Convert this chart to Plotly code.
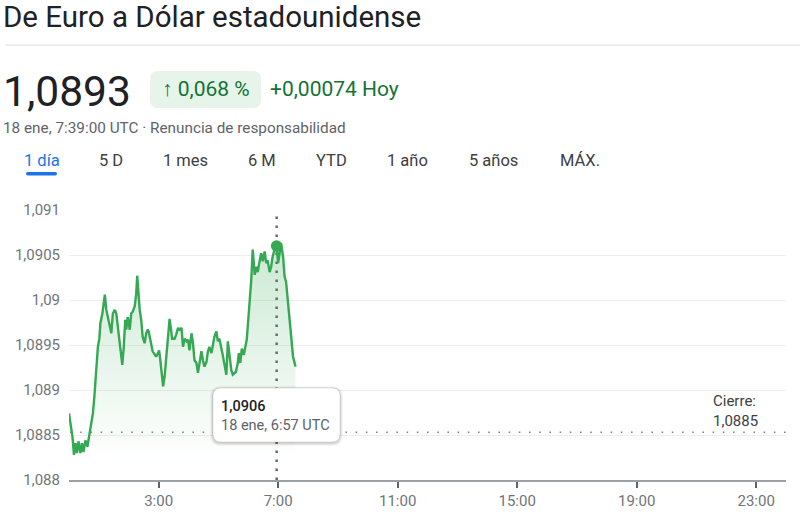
import plotly.graph_objects as go

# ---------------- data ----------------
day = "2024-01-18"
times = ["00:00", "00:03", "00:07", "00:10", "00:13", "00:16", "00:19", "00:23", "00:26", "00:29",
         "00:33", "00:37", "00:40", "00:43", "00:48", "00:51", "00:55", "00:58", "01:01", "01:03",
         "01:07", "01:10", "01:12", "01:15", "01:18", "01:22", "01:25", "01:28", "01:32", "01:35",
         "01:38", "01:42", "01:45", "01:47", "01:50", "01:53", "01:55", "01:58", "02:02", "02:05",
         "02:08", "02:12", "02:15", "02:17", "02:22", "02:25", "02:28", "02:32", "02:35", "02:38",
         "02:40", "02:45", "02:48", "02:55", "03:01", "03:03", "03:07", "03:09", "03:12", "03:15",
         "03:19", "03:22", "03:25", "03:27", "03:32", "03:35", "03:39", "03:42", "03:46", "03:49",
         "03:52", "03:56", "03:59", "04:02", "04:06", "04:09", "04:12", "04:16", "04:19", "04:22",
         "04:26", "04:29", "04:32", "04:36", "04:39", "04:42", "04:46", "04:49", "04:52", "04:56",
         "04:59", "05:02", "05:06", "05:08", "05:13", "05:16", "05:19", "05:23", "05:26", "05:29",
         "05:35", "05:39", "05:41", "05:44", "05:47", "05:51", "05:54", "05:57", "06:01", "06:06",
         "06:09", "06:13", "06:16", "06:19", "06:23", "06:26", "06:29", "06:33", "06:36", "06:39",
         "06:43", "06:46", "06:49", "06:53", "06:57", "07:00", "07:03", "07:06", "07:10", "07:13",
         "07:16", "07:20", "07:23", "07:26", "07:30", "07:35"]
rates = [1.08874, 1.08863, 1.08848, 1.08828, 1.08841, 1.08830, 1.08843, 1.08830, 1.08841, 1.08831,
         1.08844, 1.08837, 1.08848, 1.08859, 1.08874, 1.08893, 1.08919, 1.08948, 1.08957, 1.08974,
         1.08985, 1.09000, 1.09006, 1.08989, 1.08981, 1.08967, 1.08963, 1.08985, 1.08989, 1.08985,
         1.08970, 1.08952, 1.08933, 1.08928, 1.08948, 1.08978, 1.08967, 1.08981, 1.08967, 1.08985,
         1.08987, 1.08993, 1.09007, 1.09027, 1.08989, 1.08978, 1.08959, 1.08952, 1.08963, 1.08967,
         1.08965, 1.08950, 1.08943, 1.08937, 1.08944, 1.08935, 1.08911, 1.08904, 1.08915, 1.08937,
         1.08963, 1.08979, 1.08967, 1.08957, 1.08957, 1.08961, 1.08969, 1.08967, 1.08969, 1.08948,
         1.08957, 1.08954, 1.08956, 1.08944, 1.08963, 1.08952, 1.08933, 1.08930, 1.08919, 1.08931,
         1.08943, 1.08933, 1.08926, 1.08931, 1.08943, 1.08948, 1.08941, 1.08950, 1.08959, 1.08965,
         1.08954, 1.08957, 1.08943, 1.08941, 1.08926, 1.08917, 1.08954, 1.08933, 1.08922, 1.08917,
         1.08920, 1.08930, 1.08941, 1.08930, 1.08946, 1.08939, 1.08950, 1.08956, 1.08985, 1.09022,
         1.09056, 1.09028, 1.09037, 1.09031, 1.09044, 1.09052, 1.09043, 1.09054, 1.09041, 1.09044,
         1.09031, 1.09037, 1.09048, 1.09057, 1.09060, 1.09041, 1.09052, 1.09063, 1.09048, 1.09026,
         1.09020, 1.08996, 1.08974, 1.08956, 1.08937, 1.08926]
prev_close = 1.08853
hover_time = "06:57"

y_ticks = [1.088, 1.0885, 1.089, 1.0895, 1.090, 1.0905, 1.091]
y_labels = ["1,088", "1,0885", "1,089", "1,0895", "1,09", "1,0905", "1,091"]
x_tick_times = ["03:00", "07:00", "11:00", "15:00", "19:00", "23:00"]
x_labels = ["3:00", "7:00", "11:00", "15:00", "19:00", "23:00"]

title_text = "De Euro a Dólar estadounidense"
price_text = "1,0893"
pct_text = "↑ 0,068 %"
chg_text = "+0,00074 Hoy"
sub_text = "18 ene, 7:39:00 UTC · Renuncia de responsabilidad"
tabs = ["1 día", "5 D", "1 mes", "6 M", "YTD", "1 año", "5 años", "MÁX."]
close_label = "Cierre:<br>1,0885"

# ---------------- layout helpers ----------------
FW, FH = 800, 523
L, R, T, B = 69, 14, 210, 43
PW, PH = FW - L - R, FH - T - B


def px(xp):
    return (xp - L) / PW


def py(yp):
    return (FH - B - yp) / PH


def rrect(x0, y0, x1, y1, r):
    pts = [
        ("M", [(x0 + r, y0)]), ("L", [(x1 - r, y0)]), ("Q", [(x1, y0), (x1, y0 + r)]),
        ("L", [(x1, y1 - r)]), ("Q", [(x1, y1), (x1 - r, y1)]), ("L", [(x0 + r, y1)]),
        ("Q", [(x0, y1), (x0, y1 - r)]), ("L", [(x0, y0 + r)]), ("Q", [(x0, y0), (x0 + r, y0)]),
    ]
    s = ""
    for cmd, ps in pts:
        s += cmd + " " + " ".join(f"{px(a):.5f},{py(b):.5f}" for a, b in ps) + " "
    return s + "Z"


xs = [f"{day} {t}" for t in times]
hi = times.index(hover_time)
green = "#34a853"
FONT = "Roboto"

fig = go.Figure()
fig.add_trace(go.Scatter(
    x=xs, y=rates, mode="lines",
    line=dict(color=green, width=2.4),
    fill="tozeroy",
    fillgradient=dict(type="vertical", start=1.0882, stop=1.0907,
                      colorscale=[[0, "rgba(52,168,83,0)"], [1, "rgba(52,168,83,0.26)"]]),
    hoverinfo="skip", showlegend=False,
))
fig.add_trace(go.Scatter(
    x=[xs[hi]], y=[rates[hi]], mode="markers",
    marker=dict(color=green, size=11.5),
    hoverinfo="skip", showlegend=False,
))

shapes = []
shapes.append(dict(type="line", xref="paper", yref="paper", x0=px(5), x1=px(800), y0=py(45), y1=py(45),
                   line=dict(color="#dadce0", width=1)))
shapes.append(dict(type="path", xref="paper", yref="paper", path=rrect(150, 71, 261, 108, 8),
                   fillcolor="#e6f4ea", line=dict(width=0)))
shapes.append(dict(type="path", xref="paper", yref="paper", path=rrect(26, 172, 57, 175.5, 1.7),
                   fillcolor="#1a73e8", line=dict(width=0)))
shapes.append(dict(type="line", xref="paper", yref="y", x0=px(70), x1=px(786), y0=prev_close, y1=prev_close,
                   line=dict(color="#80868b", width=1.6, dash="1.6px,8.6px"), layer="between"))
shapes.append(dict(type="line", xref="x", yref="paper", x0=xs[hi], x1=xs[hi], y0=py(480), y1=py(213),
                   line=dict(color="#5f6368", width=2.4, dash="2.4px,6.6px"), layer="between"))
for d, a in [(3, 0.04), (2, 0.05), (1, 0.07)]:
    shapes.append(dict(type="path", xref="paper", yref="paper",
                       path=rrect(213 - d, 388 - d + 1, 340 + d, 442 + d + 1, 8 + d),
                       fillcolor=f"rgba(0,0,0,{a})", line=dict(width=0)))
shapes.append(dict(type="path", xref="paper", yref="paper", path=rrect(213, 388, 340, 442, 8),
                   fillcolor="white", line=dict(color="rgba(0,0,0,0.10)", width=1)))

ann = []


def text(t, x, y, size, color, xanchor="left", weight=None, align="left"):
    f = dict(family=FONT, size=size, color=color)
    if weight:
        f["weight"] = weight
    ann.append(dict(text=t, x=px(x), y=py(y), xref="paper", yref="paper", xanchor=xanchor,
                    yanchor="middle", showarrow=False, font=f, align=align))


text(title_text, 1, 17, 29.5, "#202124")
text(price_text, 1, 91, 42.5, "#202124")
text(pct_text, 160, 89, 21, "#137333")
text(chg_text, 268, 89, 21, "#137333")
text(sub_text, 1, 128, 15.3, "#5f6368")
tab_centers = [41.5, 111, 185.5, 261.5, 331, 407, 493.5, 579.5]
for i, (tb, cx) in enumerate(zip(tabs, tab_centers)):
    text(tb, cx, 161, 16.5, "#1a73e8" if i == 0 else "#3c4043", xanchor="center")
text(close_label, 711, 411, 15, "#3c4043")
text(f"{rates[hi]:.4f}".replace(".", ","), 219, 406, 14.5, "#202124", weight=500)
hh, mm = hover_time.split(":")
text(f"18 ene, {int(hh)}:{mm} UTC", 219, 425, 14.5, "#5f6368")

fig.update_layout(
    width=FW, height=FH,
    margin=dict(l=L, r=R, t=T, b=B, pad=0, autoexpand=False),
    paper_bgcolor="white", plot_bgcolor="white",
    font=dict(family=FONT, size=14, color="#70757a"),
    shapes=shapes, annotations=ann,
    hovermode=False, showlegend=False,
    xaxis=dict(type="date", range=[f"{day} 00:00", "2024-01-19 00:00"],
               tickvals=[f"{day} {t}" for t in x_tick_times], ticktext=x_labels,
               showgrid=False, zeroline=False, showline=True, linecolor="#9aa0a6", linewidth=1.5,
               ticks="outside", ticklen=6, tickwidth=2, tickcolor="#5f6368",
               tickfont=dict(family=FONT, size=15, color="#70757a"), automargin=False),
    yaxis=dict(range=[1.088, 1.091], tickvals=y_ticks, ticktext=y_labels,
               showgrid=True, gridcolor="#eeeeee", gridwidth=1, zeroline=False, showline=False,
               ticks="", ticklabelstandoff=8,
               tickfont=dict(family=FONT, size=15, color="#70757a"), automargin=False),
)

fig.write_html("out.html", config={"displayModeBar": False})

# remove the browser's default page margin so the figure sits at (0, 0)
with open("out.html", encoding="utf-8") as fh:
    html = fh.read()
html = html.replace("<head>", "<head><style>html,body{margin:0;padding:0;overflow:hidden;}</style>", 1)
with open("out.html", "w", encoding="utf-8") as fh:
    fh.write(html)
